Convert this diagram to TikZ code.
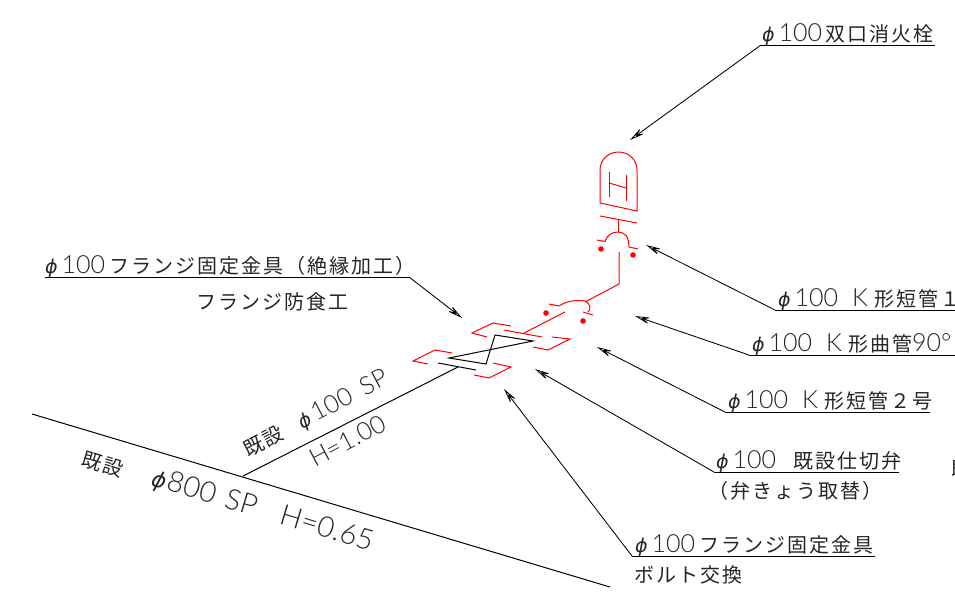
\documentclass[tikz,border=0pt]{standalone}
\usepackage{fontspec}
\usetikzlibrary{arrows.meta}
\newfontfamily\jp[LetterSpace=10]{Noto Sans CJK JP}
\newfontfamily\lat[UprightFont={* Light},Scale=1.25]{Lato}
\newfontfamily\phifont[Scale=0.95]{DejaVu Sans}
\definecolor{cadred}{RGB}{255,0,0}
\tikzset{
  lead/.style={black,line width=0.85pt,-{Stealth[open,length=18pt,width=8pt,inset=9pt]}},
  under/.style={black,line width=0.9pt},
  txt/.style={inner sep=0pt,anchor=base west,text=black!85,font=\fontsize{20}{22}\selectfont},
  redl/.style={cadred,line width=1pt,line join=miter},
  blk/.style={black,line width=1pt},
}
\newcommand{\pp}{{\phifont\itshape ϕ}\kern4pt}
\newcommand{\bigsz}{\fontsize{24}{26}\selectfont}
\begin{document}
\begin{tikzpicture}[x=1pt,y=-1pt]
\useasboundingbox (0,0) rectangle (955,597);
\fill[white] (0,0) rectangle (955,597);
% coordinates
\coordinate (hydT) at (630,140);
\coordinate (k1T) at (646,245);
\coordinate (k9T) at (635,316);
\coordinate (k2T) at (597,347);
\coordinate (vT) at (535,369);
\coordinate (fT) at (504,389);
\coordinate (lT) at (462,318);
\coordinate (a0) at (761,45);\coordinate (a1) at (935,45);
\coordinate (b0) at (775,310);\coordinate (b1) at (955,310);
\coordinate (c0) at (749,355);\coordinate (c1) at (955,355);
\coordinate (d0) at (725,412);\coordinate (d1) at (930,412);
\coordinate (e0) at (714,472);\coordinate (e1) at (899,472);
\coordinate (f0) at (632,556);\coordinate (f1) at (875,556);
\coordinate (g0) at (45,277);\coordinate (g1) at (409,277);
\foreach \s/\e in {a1/a0,b1/b0,c1/c0,d1/d0,e1/e0,f1/f0,g0/g1}{\draw[under] (\s)--(\e);}
\draw[lead] (a0)--(hydT);
\draw[lead] (b0)--(k1T);
\draw[lead] (c0)--(k9T);
\draw[lead] (d0)--(k2T);
\draw[lead] (e0)--(vT);
\draw[lead] (f0)--(fT);
\draw[lead] (g1)--(lT);
% labels
\node[txt] (ta) at (762,41) {\pp\lat 100\kern3pt\jp 双口消火栓};
\node[txt] (tb) at (778,306) {\pp\lat 100\kern14pt K\kern6pt\jp 形短管１};
\node[txt] (tc) at (752,351) {\pp\lat 100\kern14pt K\kern6pt\jp 形曲管\lat 90°};
\node[txt] (td) at (728,408) {\pp\lat 100\kern14pt K\kern6pt\jp 形短管２号};
\node[txt] (te) at (716,468) {\pp\lat 100\kern17pt\jp 既設仕切弁};
\node[txt] (te2) at (708,498) {\jp（弁きょう取替）};
\node[txt] (tf) at (635,552) {\pp\lat 100\kern4pt\jp フランジ固定金具};
\node[txt] (tf2) at (634,582) {\jp ボルト交換};
\node[txt] (tg) at (45,273) {\pp\lat 100\kern4pt\jp フランジ固定金具（絶縁加工）};
\node[txt] (tg2) at (196,309) {\jp フランジ防食工};
\node[txt] (tz) at (951,476) {\jp 既};
% mains
\coordinate (m0) at (32,414);\coordinate (m1) at (610,587);
\coordinate (br0) at (243,476);\coordinate (br1) at (458,367);
\draw[blk] (m0)--(m1);
\draw[blk] (br0)--(br1);
\node[txt,rotate=27.7] at (248,458) {\jp 既設\kern19pt\pp\lat 100\kern12pt SP};
\node[txt,rotate=27.7] at (315,468) {\lat H=1.00};
\node[txt,rotate=-16.7] at (80,465) {\jp 既設};
\node[txt,rotate=-16.7] at (150,485) {\fontsize{23}{25}\selectfont{\phifont\itshape ϕ}\kern2pt\lat 800\kern10pt SP\kern26pt H=0.65};
% valve
\draw[blk] (438,363)--(476,370);
\draw[blk] (449,358)--(486,364)--(495,335)--(533,341)--cycle;
% flanges
\draw[redl] (452,353)--(435,350)--(413,361)--(428,364);
\draw[redl] (493,363)--(511,367)--(489,378)--(474,375);
\draw[redl] (511,326)--(493,323)--(472,333)--(487,337);
\draw[redl] (552,337)--(570,339)--(548,350)--(533,347);
\draw[redl] (504,330)--(542,337);
\draw[redl] (524,333)--(565,312);
% K bend lower
\draw[redl] (549,304)--(559,306) .. controls (568,300) and (578,300) .. (585,301) .. controls (591,304) and (591,309) .. (588,312);
\draw[redl] (583,312)--(593,315);
\draw[redl] (585,302)--(619,284)--(619,252);
\fill[cadred] (546,313) circle (2.8) (583,321) circle (2.8) (601,249) circle (2.8) (633,255) circle (2.8);
% K upper
\draw[redl] (597,240)--(605,241.5) .. controls (607,235) and (612,232) .. (618,232) .. controls (625,232) and (629,237) .. (629,247)--(638,249);
\draw[redl] (618,232)--(618,220);
\draw[redl] (600,216)--(637,223);
% hydrant
\draw[redl] (600,203)--(600,170) .. controls (600,160) and (608,152) .. (618.5,152) .. controls (629,152) and (637,160) .. (637,170)--(637,211)--cycle;
\draw[redl] (609,172)--(609,197);
\draw[redl] (626,175)--(626,201);
\draw[redl] (609,183)--(626,188);
\end{tikzpicture}
\end{document}
